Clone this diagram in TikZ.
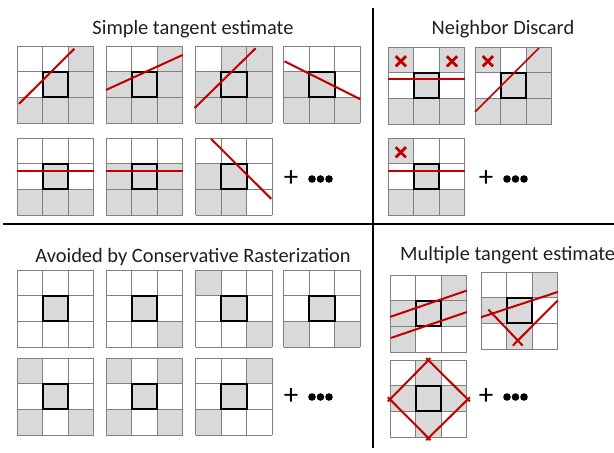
\documentclass[tikz,border=0pt]{standalone}
\usepackage{fontspec}
\setmainfont{Carlito}
\definecolor{cellgray}{HTML}{D9D9D9}
\definecolor{gridgray}{HTML}{808080}
\definecolor{tanred}{HTML}{C00000}
\newcommand\cellgrid[1]{%
  \foreach \c/\r in {#1} {\fill[cellfill] (\c,\r) rectangle ++(1,1);}
  \draw[gridline] (0,0) grid[step=1] (3,3);
  \draw[centerbox] (1,1) rectangle (2,2);}
\newcommand\xmk[2]{\draw[xmark] (#1-0.2,#2-0.2) -- (#1+0.2,#2+0.2) (#1-0.2,#2+0.2) -- (#1+0.2,#2-0.2);}
\begin{document}
\begin{tikzpicture}[x=1pt,y=-1pt,
  cellfill/.style={fill=cellgray},
  gridline/.style={draw=gridgray,line width=0.9pt},
  centerbox/.style={draw=black,line width=2pt},
  redline/.style={draw=tanred,line width=2pt},
  xmark/.style={draw=tanred,line width=2.8pt},
  sep/.style={draw=black,line width=2pt},
  title/.style={font=\fontsize{20.4}{24}\selectfont,text=black!88,anchor=base,inner sep=0pt},
  plustext/.style={font=\fontsize{29}{30}\selectfont,inner sep=0pt,anchor=center},
  gridat/.style={shift={#1},x=25.6pt,y=25.6pt}]
\useasboundingbox (0,0) rectangle (614,453);
\fill[white] (0,0) rectangle (614,453);
% separators
\coordinate (hl) at (3,224);
\coordinate (hr) at (614,224);
\coordinate (vt) at (373,8);
\coordinate (vb) at (373,448);
\draw[sep] (hl) -- (hr);
\draw[sep] (vt) -- (vb);
% titles
\node[title] (t1) at (193,34) {Simple tangent estimate};
\node[title] (t2) at (503,34) {Neighbor Discard};
\node[title] (t3) at (193,262) {Avoided by Conservative Rasterization};
\node[title,anchor=base west] (t4) at (400,260) {Multiple tangent estimate};
% ---- Simple tangent estimate
\begin{scope}[gridat={(17,123)}]
  \cellgrid{1/1,0/0,1/0,2/0,2/1,2/2}
  \draw[redline] (0.08,0.75) -- (2.24,2.9);
\end{scope}
\begin{scope}[gridat={(106,123)}]
  \cellgrid{1/1,0/0,1/0,2/0,0/1,2/1,2/2}
  \draw[redline] (0,1.29) -- (3,2.66);
\end{scope}
\begin{scope}[gridat={(195.5,123)}]
  \cellgrid{1/1,0/0,1/0,2/0,0/1,2/1,1/2,2/2}
  \draw[redline] (-0.04,0.58) -- (2.35,2.92);
\end{scope}
\begin{scope}[gridat={(283.5,123)}]
  \cellgrid{1/1,0/0,1/0,2/0,0/1}
  \draw[redline] (0.04,2.41) -- (3,0.93);
\end{scope}
\begin{scope}[gridat={(17,215)}]
  \cellgrid{1/1,0/0,1/0,2/0}
  \draw[redline] (0,1.70) -- (3,1.70);
\end{scope}
\begin{scope}[gridat={(106,215)}]
  \cellgrid{1/1,0/0,1/0,2/0,0/1,2/1}
  \draw[redline] (0,1.70) -- (3,1.70);
\end{scope}
\begin{scope}[gridat={(195.5,215)}]
  \cellgrid{1/1,0/0,1/0,0/1}
  \draw[redline] (0.61,2.97) -- (2.96,0.63);
\end{scope}
\node[plustext] (plus1) at (291,179) {+};
\foreach \i in {0,1,2} {\fill (312+8.5*\i,179) circle (3.8pt);}
% ---- Neighbor discard
\begin{scope}[gridat={(388,124)}]
  \cellgrid{1/1,0/0,1/0,2/0,0/2,2/2}
  \draw[redline,line width=1.5pt] (0,1.75) -- (3,1.75);
  \xmk{0.5}{2.45}
  \xmk{2.5}{2.45}
\end{scope}
\begin{scope}[gridat={(475,124)}]
  \cellgrid{1/1,0/0,1/0,2/0,2/1,0/2,2/2}
  \draw[redline,line width=1.5pt] (0,0.47) -- (2.5,2.97);
  \xmk{0.5}{2.45}
\end{scope}
\begin{scope}[gridat={(388,215)}]
  \cellgrid{1/1,0/0,1/0,2/0,0/2}
  \draw[redline] (0,1.70) -- (3,1.70);
  \xmk{0.5}{2.45}
\end{scope}
\node[plustext] (plus2) at (486,179) {+};
\foreach \i in {0,1,2} {\fill (507+8.5*\i,179) circle (3.8pt);}
% ---- Avoided by conservative rasterization
\begin{scope}[gridat={(17,347)}]
  \cellgrid{1/1}
\end{scope}
\begin{scope}[gridat={(106,347)}]
  \cellgrid{1/1,2/0}
\end{scope}
\begin{scope}[gridat={(195.5,347)}]
  \cellgrid{1/1,0/2,2/0}
\end{scope}
\begin{scope}[gridat={(283.5,347)}]
  \cellgrid{1/1,0/0,2/0}
\end{scope}
\begin{scope}[gridat={(17,435)}]
  \cellgrid{1/1,0/2,0/0,2/0}
\end{scope}
\begin{scope}[gridat={(106,435)}]
  \cellgrid{1/1,0/2,2/2,0/0,2/0}
\end{scope}
\begin{scope}[gridat={(195.5,435)}]
  \cellgrid{1/1,2/2,0/0}
\end{scope}
\node[plustext] (plus3) at (291,397) {+};
\foreach \i in {0,1,2} {\fill (312+8.5*\i,397) circle (3.8pt);}
% ---- Multiple tangent estimate
\begin{scope}[gridat={(390,352)}]
  \cellgrid{1/1,2/2,0/1,2/1,0/0}
  \draw[redline] (0,1.37) -- (3,2.40);
  \draw[redline] (0.04,0.55) -- (3,1.56);
\end{scope}
\begin{scope}[gridat={(481,349)}]
  \cellgrid{1/1,2/2,0/1,1/0}
  \draw[redline] (0,1.24) -- (3,2.23);
  \draw[redline] (0.29,1.54) -- (1.63,0.13);
  \draw[redline] (3,1.90) -- (1.24,0.13);
\end{scope}
\begin{scope}[gridat={(390,437)}]
  \cellgrid{1/1,1/2,0/1,2/1,1/0}
  \coordinate (dt) at (1.5,3.0);
  \coordinate (dr) at (3.04,1.47);
  \coordinate (db) at (1.5,-0.04);
  \coordinate (dl) at (0,1.47);
  \draw[redline,shorten <=-3pt,shorten >=-3pt] (dt) -- (dr);
  \draw[redline,shorten <=-3pt,shorten >=-3pt] (dr) -- (db);
  \draw[redline,shorten <=-3pt,shorten >=-3pt] (db) -- (dl);
  \draw[redline,shorten <=-3pt,shorten >=-3pt] (dl) -- (dt);
\end{scope}
\node[plustext] (plus4) at (486,397) {+};
\foreach \i in {0,1,2} {\fill (507+8.5*\i,397) circle (3.8pt);}
\end{tikzpicture}
\end{document}
